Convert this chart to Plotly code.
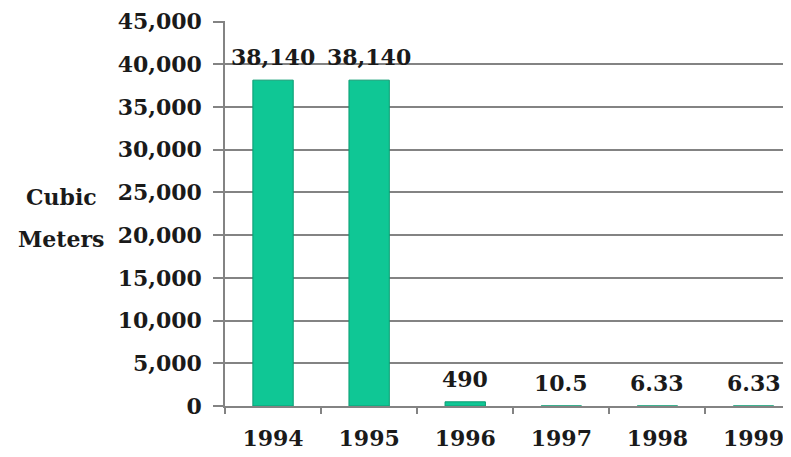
import plotly.graph_objects as go

years = ["1994", "1995", "1996", "1997", "1998", "1999"]
volumes = [38140, 38140, 490, 10.5, 6.33, 6.33]
value_labels = ["38,140", "38,140", "490", "10.5", "6.33", "6.33"]
y_ticks = [0, 5000, 10000, 15000, 20000, 25000, 30000, 35000, 40000, 45000]
y_tick_labels = ["0", "5,000", "10,000", "15,000", "20,000", "25,000",
                 "30,000", "35,000", "40,000", "45,000"]

FONT = dict(family="DejaVu Serif", size=22, color="#1a1a1a")
GRID = "#838383"

fig = go.Figure()
fig.add_trace(go.Bar(
    x=years, y=volumes, width=0.42,
    marker=dict(color="#0fc795", line=dict(color="#0b9c72", width=1)),
    hoverinfo="x+y",
))

for i, (v, lab) in enumerate(zip(volumes, value_labels)):
    fig.add_annotation(x=i, y=v, text="<b>" + lab + "</b>", showarrow=False,
                       yanchor="bottom", yshift=8, font=FONT)

fig.add_annotation(xref="paper", yref="paper", x=-0.288, y=0.542,
                   text="<b>Cubic</b>", showarrow=False, font=FONT,
                   xanchor="center", yanchor="middle")
fig.add_annotation(xref="paper", yref="paper", x=-0.288, y=0.434,
                   text="<b>Meters</b>", showarrow=False, font=FONT,
                   xanchor="center", yanchor="middle")

fig.update_layout(
    width=791, height=457,
    margin=dict(l=217, r=8, t=13, b=59, autoexpand=False),
    paper_bgcolor="white", plot_bgcolor="white",
    showlegend=False,
)
fig.update_xaxes(
    type="category", range=[-0.5, 5.39], automargin=False,
    showline=True, linecolor=GRID, linewidth=1.5,
    showgrid=False, ticks="outside", tickson="boundaries",
    ticklen=6, tickcolor=GRID, tickwidth=1.5,
    tickfont=FONT, ticklabelstandoff=12,
    tickvals=years, ticktext=["<b>" + y + "</b>" for y in years],
)
fig.update_yaxes(
    range=[0, 45060], automargin=False,
    tickvals=y_ticks, ticktext=["<b>" + t + "</b>" for t in y_tick_labels],
    showline=True, linecolor=GRID, linewidth=1.5,
    showgrid=True, gridcolor=GRID, gridwidth=1.5,
    ticks="outside", ticklen=10, tickcolor=GRID, tickwidth=1.5,
    tickfont=FONT, ticklabelstandoff=7, ticklabeloverflow="allow",
    zeroline=False,
)

fig.write_html("out.html")
